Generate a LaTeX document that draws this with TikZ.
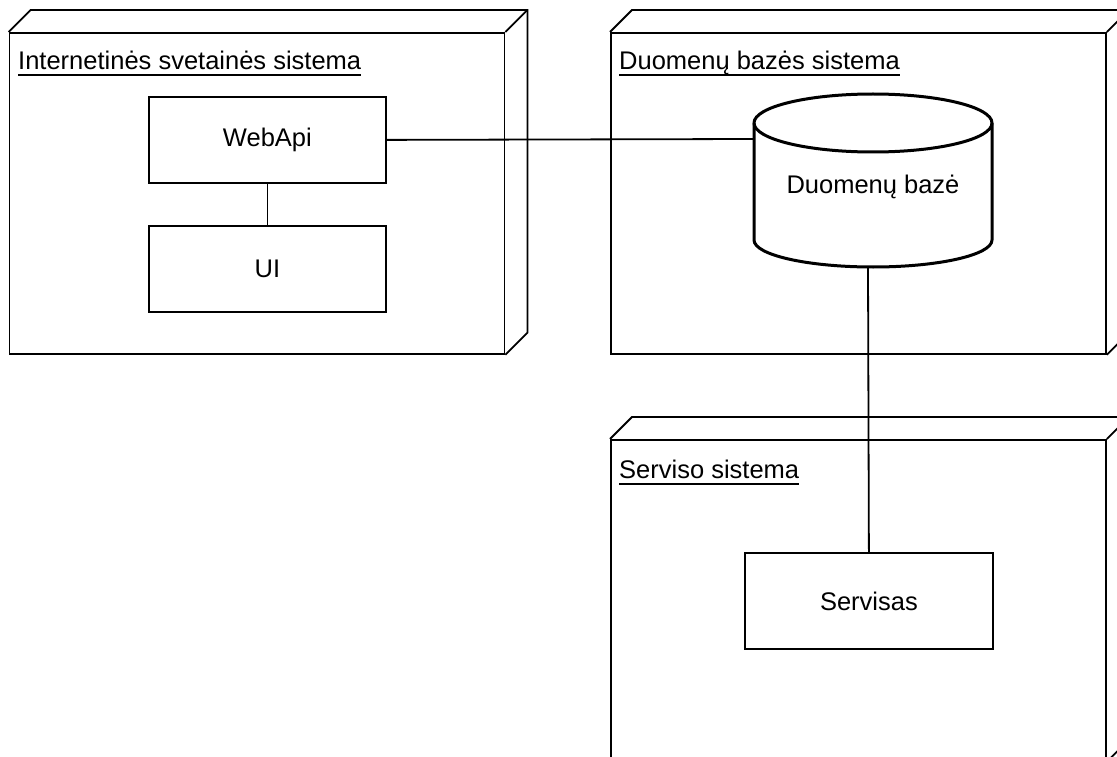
\documentclass[tikz,border=0pt]{standalone}
\usepackage{fontspec}
\setmainfont{Liberation Sans}
\begin{document}
\begin{tikzpicture}[x=1pt,y=-1pt,
  front/.style={draw, line width=1.8pt, minimum width=495pt, minimum height=321pt, inner sep=0pt, anchor=north west},
  comp/.style={draw, line width=1.8pt, inner sep=0pt, font=\fontsize{25.5}{30}\selectfont, anchor=north west},
  ttl/.style={inner sep=0pt, anchor=base west, font=\fontsize{25.5}{30}\selectfont},
  conn/.style={line width=1.8pt},
  cyl/.style={line width=3pt},
  depth/.style={line width=1.8pt, line join=miter}]
\useasboundingbox (0,0) rectangle (1117,757);
\clip (0,0) rectangle (1117,757);

% 3D node boxes
\newcommand{\nodebox}[1]{%
  \draw[depth] (#1.north west) -- ++(22pt,22pt) -- ([shift={(22pt,22pt)}]#1.north east)
     -- ([shift={(22pt,22pt)}]#1.south east) -- (#1.south east);
  \draw[depth] (#1.north east) -- ++(22pt,22pt);}

\node[front] (n1) at (8.6,32) {};
\node[front] (n2) at (610,32) {};
\node[front] (n3) at (610,439) {};
\nodebox{n1}
\nodebox{n2}
\nodebox{n3}

% titles
\node[ttl] (t1) at (18,70) {Internetinės svetainės sistema};
\node[ttl] (t2) at (619,70) {Duomenų bazės sistema};
\node[ttl] (t3) at (619,478) {Serviso sistema};
\foreach \t in {t1,t2,t3}{
  \draw[line width=2pt] ([yshift=-5.5pt]\t.base west) -- ([yshift=-5.5pt]\t.base east);
}

% components
\node[comp, minimum width=237pt, minimum height=86pt] (wa) at (148,96) {WebApi};
\node[comp, minimum width=237pt, minimum height=86pt] (ui) at (148,225) {UI};
\node[comp, minimum width=248pt, minimum height=96pt] (sv) at (744,552) {Servisas};

% database cylinder
\draw[cyl, fill=white] (754,240) -- (754,123)
  arc[start angle=180, end angle=0, x radius=119pt, y radius=29pt]
  -- (992,240)
  arc[start angle=0, end angle=-180, x radius=119pt, y radius=27pt] -- cycle;
\draw[cyl] (754,123) arc[start angle=180, end angle=360, x radius=119pt, y radius=29pt];
\node[font=\fontsize{25.5}{30}\selectfont, inner sep=0pt] (db) at (873,187) {Duomenų bazė};
\coordinate (dbw) at (754,139);
\coordinate (dbs) at (868,267);

% connectors
\draw[conn] (wa.east) -- (dbw);
\draw[conn] (wa.south) -- (ui.north);
\draw[conn] (sv.north) -- (dbs);
\end{tikzpicture}
\end{document}
